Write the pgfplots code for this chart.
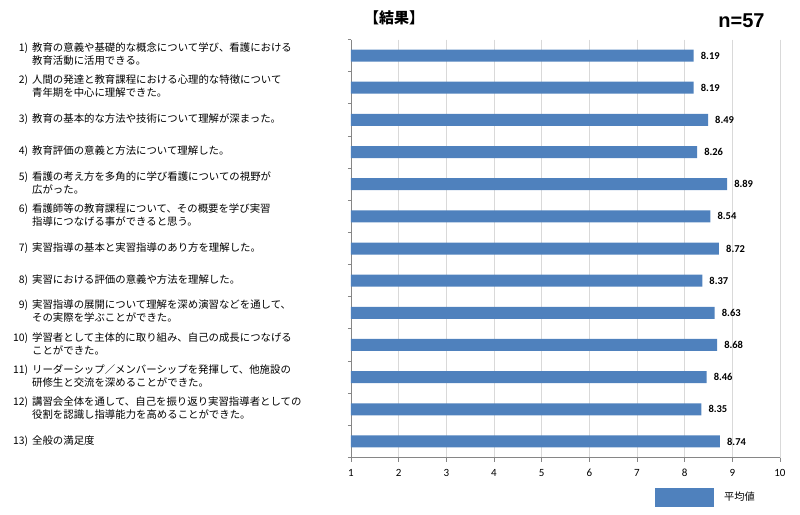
\documentclass[border=0pt]{standalone}
\usepackage{pgfplots}
\pgfplotsset{compat=1.18}
\usepackage{fontspec}
\setmainfont{Noto Sans CJK JP}
\newfontfamily\jp{Noto Sans CJK JP}
\newfontfamily\carlito{Carlito}
\newfontfamily\lib{Liberation Sans}
\definecolor{barblue}{HTML}{4F81BD}
\definecolor{gridgray}{HTML}{D9D9D9}
\definecolor{axgray}{HTML}{868686}
\newcommand{\lab}[3]{\begin{tabular}{@{}l@{}}\makebox[16pt][r]{#1}\hspace{4pt}#2\\\hspace*{20pt}#3\end{tabular}}
\newcommand{\labone}[2]{\begin{tabular}{@{}l@{}}\makebox[16pt][r]{#1}\hspace{4pt}#2\end{tabular}}
\begin{document}
\begin{tikzpicture}
\useasboundingbox (-351pt,-56.5pt) rectangle (449pt,457.5pt);
\begin{axis}[
  at={(0pt,0pt)}, anchor=south west,
  scale only axis, width=429pt, height=418pt,
  xmin=1, xmax=10, ymin=0.5, ymax=13.5, y dir=reverse,
  xbar, bar width=12pt,
  axis x line*=bottom, axis y line*=left,
  axis line style={axgray, line width=0.8pt},
  xtick={1,...,10}, xmajorgrids,
  major grid style={gridgray, line width=0.8pt},
  tick align=outside, major tick length=4pt, minor tick length=3pt,
  tick style={axgray, line width=0.8pt},
  ytick={1,...,13}, major y tick style={draw=none},
  minor ytick={0.5,1.5,...,13.5},
  /pgf/number format/assume math mode=true,
  xticklabel style={font=\carlito\fontsize{11}{13}\selectfont, yshift=-4pt},
  yticklabel style={font=\jp\fontsize{10.4}{13}\selectfont, anchor=west, xshift=-335pt, inner sep=0pt},
  yticklabels={
    {\lab{1)}{教育の意義や基礎的な概念について学び、看護における}{教育活動に活用できる。}},
    {\lab{2)}{人間の発達と教育課程における心理的な特徴について}{青年期を中心に理解できた。}},
    {\labone{3)}{教育の基本的な方法や技術について理解が深まった。}},
    {\labone{4)}{教育評価の意義と方法について理解した。}},
    {\lab{5)}{看護の考え方を多角的に学び看護についての視野が}{広がった。}},
    {\lab{6)}{看護師等の教育課程について、その概要を学び実習}{指導につなげる事ができると思う。}},
    {\labone{7)}{実習指導の基本と実習指導のあり方を理解した。}},
    {\labone{8)}{実習における評価の意義や方法を理解した。}},
    {\lab{9)}{実習指導の展開について理解を深め演習などを通して、}{その実際を学ぶことができた。}},
    {\lab{10)}{学習者として主体的に取り組み、自己の成長につなげる}{ことができた。}},
    {\lab{11)}{リーダーシップ／メンバーシップを発揮して、他施設の}{研修生と交流を深めることができた。}},
    {\lab{12)}{講習会全体を通して、自己を振り返り実習指導者としての}{役割を認識し指導能力を高めることができた。}},
    {\labone{13)}{全般の満足度}}
  },
  nodes near coords, point meta=explicit symbolic,
  every node near coord/.append style={font=\carlito\bfseries\fontsize{10.5}{12}\selectfont, anchor=west, inner sep=0pt, xshift=7pt, black},
  legend style={at={(axis description cs:0.7086,-0.0945)}, anchor=west, draw=none, fill=none, inner sep=0pt,
    font=\jp\fontsize{10.2}{12}\selectfont,
    /tikz/every odd column/.append style={column sep=8pt}},
]
\addplot[fill=barblue, draw=none,
  legend image code/.code={\fill[barblue] (0pt,-9.5pt) rectangle (59pt,9.5pt);}]
  coordinates {
  (8.19,1) [8.19]
  (8.19,2) [8.19]
  (8.49,3) [8.49]
  (8.26,4) [8.26]
  (8.89,5) [8.89]
  (8.54,6) [8.54]
  (8.72,7) [8.72]
  (8.37,8) [8.37]
  (8.63,9) [8.63]
  (8.68,10) [8.68]
  (8.46,11) [8.46]
  (8.35,12) [8.35]
  (8.74,13) [8.74]
  };
\addlegendentry{平均値}
\end{axis}
\node[font=\jp\bfseries\fontsize{15}{17}\selectfont] at (43pt,439.5pt) {【結果】};
\node[font=\lib\bfseries\fontsize{20}{23}\selectfont] at (390.5pt,436.5pt) {n=57};
\end{tikzpicture}
\end{document}
